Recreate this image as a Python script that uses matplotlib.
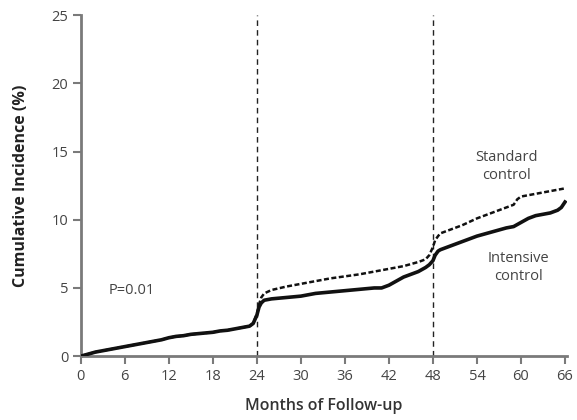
import matplotlib
matplotlib.use("Agg")
import matplotlib.pyplot as plt

# Cumulative incidence by month of follow-up
intensive_months = [0, 1, 2, 3, 4, 5, 6, 7, 8, 9, 10, 11, 12, 13, 14, 15, 16, 17, 18, 19, 20, 21, 22, 23,
                    23.5, 24, 24.3, 24.6, 25, 26, 28, 30, 32, 34, 36, 38, 40, 41, 42, 43, 44, 45, 46, 47,
                    47.5, 48, 48.3, 48.7, 49, 50, 52, 54, 56, 58, 59, 60, 61, 62, 63, 64, 65, 65.5, 66]
intensive_vals = [0, 0.15, 0.3, 0.4, 0.5, 0.6, 0.7, 0.8, 0.9, 1.0, 1.1, 1.2, 1.35, 1.45, 1.5, 1.6, 1.65, 1.7,
                  1.75, 1.85, 1.9, 2.0, 2.1, 2.2, 2.4, 3.0, 3.6, 3.9, 4.1, 4.2, 4.3, 4.4, 4.6, 4.7, 4.8, 4.9,
                  5.0, 5.0, 5.2, 5.5, 5.8, 6.0, 6.2, 6.5, 6.7, 7.0, 7.4, 7.7, 7.8, 8.0, 8.4, 8.8, 9.1, 9.4,
                  9.5, 9.8, 10.1, 10.3, 10.4, 10.5, 10.7, 10.9, 11.3]

standard_months = [0, 1, 2, 3, 4, 5, 6, 7, 8, 9, 10, 11, 12, 13, 14, 15, 16, 17, 18, 19, 20, 21, 22, 23,
                   23.5, 24, 24.3, 24.6, 25, 26, 28, 30, 32, 34, 36, 38, 40, 42, 44, 46, 47, 47.5, 48,
                   48.3, 48.7, 49, 50, 52, 54, 56, 58, 59, 59.5, 60, 61, 62, 63, 64, 65, 66]
standard_vals = [0, 0.15, 0.3, 0.4, 0.5, 0.6, 0.7, 0.8, 0.9, 1.0, 1.1, 1.2, 1.35, 1.45, 1.5, 1.6, 1.65, 1.7,
                 1.75, 1.85, 1.9, 2.0, 2.1, 2.2, 2.4, 3.1, 3.8, 4.3, 4.6, 4.85, 5.1, 5.3, 5.5, 5.7, 5.85,
                 6.0, 6.2, 6.4, 6.6, 6.9, 7.1, 7.4, 8.0, 8.5, 8.8, 9.0, 9.2, 9.6, 10.1, 10.5, 10.9, 11.1,
                 11.5, 11.7, 11.8, 11.9, 12.0, 12.1, 12.2, 12.3]

x_ticks = list(range(0, 67, 6))
y_ticks = [0, 5, 10, 15, 20, 25]
landmarks = [24, 48]

plt.rcParams['font.family'] = ['Open Sans', 'DejaVu Sans']

fig = plt.figure(figsize=(5.77, 4.2), dpi=100)
ax = fig.add_axes([0.140, 0.152, 0.843, 0.812])

gray = '#7a7a7a'
text_col = '#444444'

for m in landmarks:
    ax.axvline(m, color='#222222', lw=1.0, ls=(0, (4, 3)), zorder=1)

ax.plot(standard_months, standard_vals, color='#111111', lw=1.8, ls=(0, (2, 1)),
        solid_joinstyle='round', zorder=2)
ax.plot(intensive_months, intensive_vals, color='#111111', lw=2.6,
        solid_joinstyle='round', zorder=3)

ax.set_xlim(0, 66.3)
ax.set_ylim(0, 25)
ax.set_xticks(x_ticks)
ax.set_yticks(y_ticks)

for side in ['top', 'right']:
    ax.spines[side].set_visible(False)
for side in ['left', 'bottom']:
    ax.spines[side].set_color(gray)
    ax.spines[side].set_linewidth(2)

ax.tick_params(axis='both', direction='out', length=6, width=1.5, color=gray,
               labelsize=10.5, labelcolor=text_col, pad=3)

ax.set_xlabel('Months of Follow-up', fontsize=11.5, fontweight='semibold', color='#333333', labelpad=10)
ax.set_ylabel('Cumulative Incidence (%)', fontsize=11.5, fontweight='bold', color='#222222', labelpad=16)

ax.text(7, 4.8, 'P=0.01', fontsize=10.5, color=text_col, ha='center', va='center')
ax.text(58, 13.9, 'Standard\ncontrol', fontsize=10.5, color=text_col, ha='center', va='center',
        linespacing=1.2)
ax.text(59.6, 6.5, 'Intensive\ncontrol', fontsize=10.5, color=text_col, ha='center', va='center',
        linespacing=1.2)

fig.savefig('out.png', dpi=100)
